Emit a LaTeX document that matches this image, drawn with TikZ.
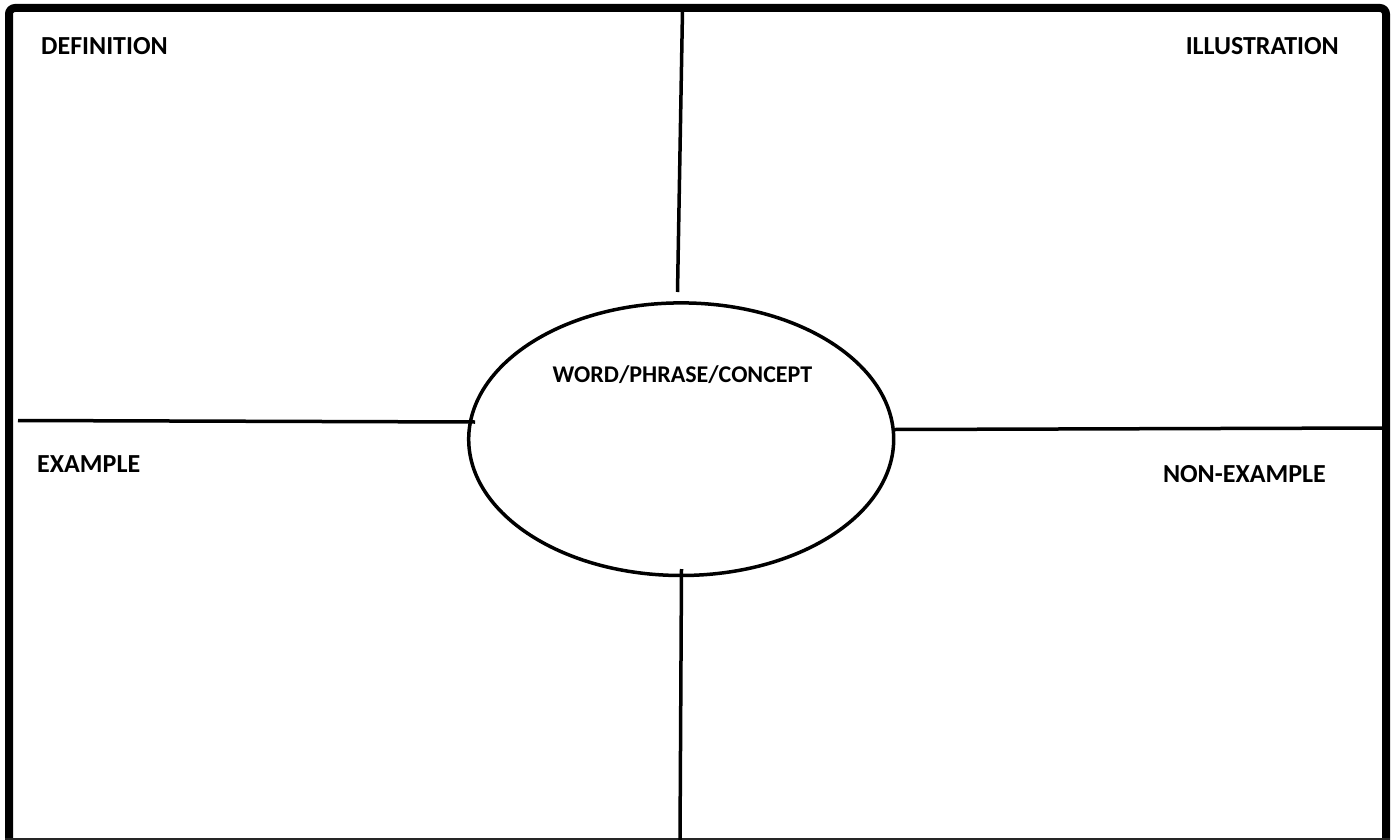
\documentclass[tikz,border=0pt]{standalone}
\usepackage{fontspec}
\setmainfont{Carlito}
\usetikzlibrary{positioning, shapes.geometric}

\begin{document}
\begin{tikzpicture}[
  x=1pt, y=-1pt,
  label/.style = {inner sep=0pt, font=\bfseries\fontsize{26}{30}\selectfont},
  divider/.style = {line width=3.5pt},
  frame/.style = {line width=8pt, rounded corners=6pt}
]
\useasboundingbox (0,0) rectangle (1395,840);

% Frame
\coordinate (BL) at (9,840);
\coordinate (TL) at (9,8);
\coordinate (TR) at (1386,8);
\coordinate (BR) at (1386,840);
\draw[frame] (BL) -- (TL) -- (TR) -- (BR);
\draw[line width=1.5pt, black!85] (5,839) -- (1390,839);

% Centre ellipse
\node (concept) [draw, ellipse, line width=3.5pt, inner sep=0pt, outer sep=0pt,
  minimum width=425pt, minimum height=272.6pt] at (681.2,439.2) {};
\node (word) [label, anchor=base, font=\bfseries\fontsize{24}{28}\selectfont]
  at (682.5,382) {WORD/PHRASE/CONCEPT};

% Corner labels
\node (def) [label, anchor=base west] at (41,55) {DEFINITION};
\node (ill) [label, anchor=base east] at (1339,55) {ILLUSTRATION};
\node (ex)  [label, anchor=base west] at (37,472) {EXAMPLE};
\node (nonex) [label, anchor=base east] at (1326,482) {NON-EXAMPLE};

% Dividers
\coordinate (topA) at (682.5,10);
\coordinate (topB) at (677.5,292);
\coordinate (botA) at (681.5,569);
\coordinate (botB) at (680,840);
\coordinate (leftA) at (18,420.5);
\coordinate (leftB) at (475,422);
\coordinate (rightA) at (895,429.5);
\coordinate (rightB) at (1382,428);
\draw[divider] (topA) -- (topB);
\draw[divider] (botA) -- (botB);
\draw[divider] (leftA) -- (leftB);
\draw[divider] (rightA) -- (rightB);

\end{tikzpicture}
\end{document}
